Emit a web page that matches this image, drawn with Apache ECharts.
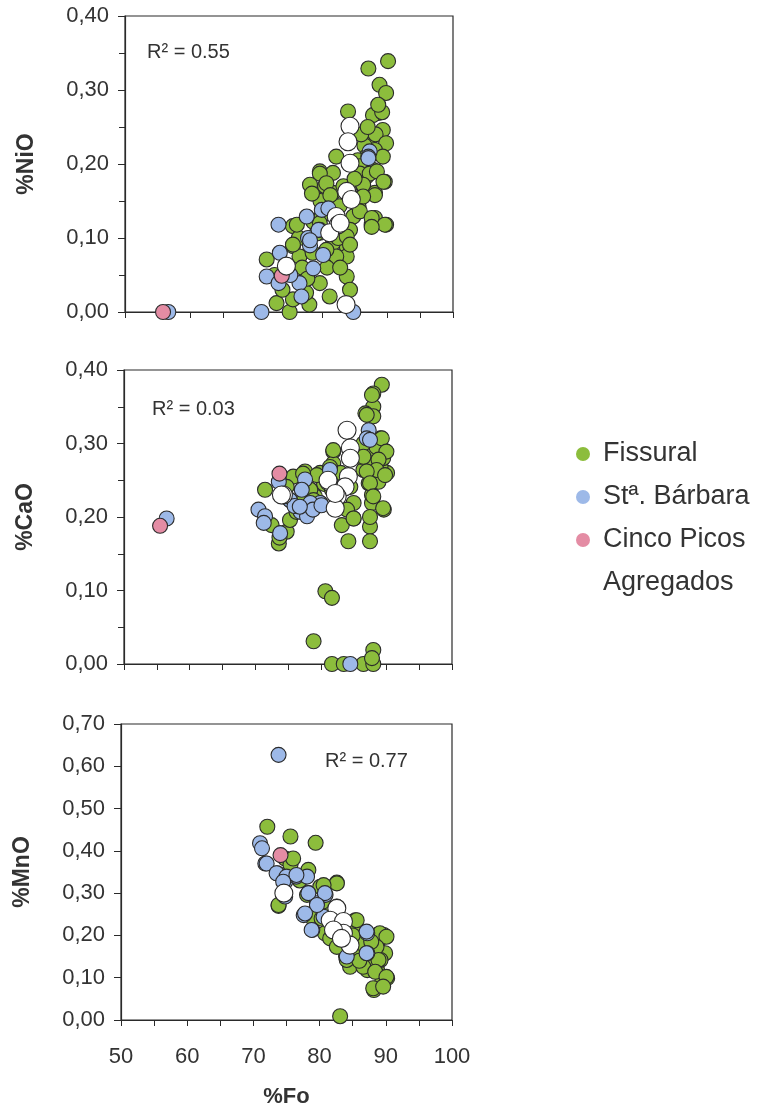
<!DOCTYPE html>
<html>
<head>
<meta charset="utf-8">
<script src="https://cdn.jsdelivr.net/npm/echarts@6/dist/echarts.min.js"></script>
<style>
html,body{margin:0;padding:0;background:#fff;}
#chart{width:764px;height:1112px;}
</style>
</head>
<body>
<div id="chart"></div>
<script>
// ---- data (x = %Fo, y = oxide %) ----
const seriesNames = ['Fissural', 'Stª. Bárbara', 'Cinco Picos', 'Agregados'];
const yAxisNames = ['%NiO', '%CaO', '%MnO'];
const r2Labels = ['R² = 0.55', 'R² = 0.03', 'R² = 0.77'];

const fissuralNiO = [[90.1,0.339],[87.1,0.329],[88.8,0.307],[89.8,0.296],[84.0,0.271],[88.6,0.269],[87.8,0.266],[89.2,0.270],[89.3,0.246],[87.6,0.237],[88.2,0.240],[89.8,0.228],[88.1,0.219],[86.5,0.225],[82.2,0.210],[86.8,0.210],[89.3,0.210],[85.5,0.205],[79.7,0.190],[81.7,0.188],[85.8,0.197],[87.8,0.192],[86.8,0.183],[89.6,0.176],[78.7,0.161],[80.5,0.170],[81.7,0.161],[83.3,0.170],[86.3,0.170],[88.1,0.161],[84.8,0.154],[85.6,0.143],[81.2,0.143],[82.7,0.143],[79.8,0.150],[88.1,0.127],[87.6,0.118],[89.8,0.118],[75.6,0.116],[78.7,0.122],[79.7,0.107],[84.8,0.129],[84.3,0.111],[83.8,0.089],[83.8,0.075],[81.7,0.093],[82.2,0.075],[75.6,0.089],[76.6,0.075],[78.6,0.080],[80.7,0.084],[71.6,0.071],[74.6,0.062],[83.8,0.048],[84.3,0.030],[79.7,0.039],[81.2,0.021],[73.1,0.012],[75.1,0.000],[78.1,0.010],[77.6,0.026],[75.6,0.017],[77.0,0.060],[80.0,0.130],[82.5,0.100],[76.5,0.100],[72.8,0.050],[74.0,0.030],
  [79.7,0.187],[85.8,0.187],[87.3,0.187],[88.4,0.190],[89.4,0.176],[78.2,0.172],[80.7,0.174],[78.5,0.160],[81.3,0.158],[86.3,0.172],[88.1,0.158],[86.3,0.156],[85.8,0.136],[87.6,0.127],[89.6,0.118],[87.6,0.115],[76.2,0.118],[79.7,0.120],[79.2,0.106],[83.8,0.102],[84.3,0.091],[75.6,0.091],[86.0,0.240],[87.0,0.250],[88.6,0.280],[85.0,0.180],[80.8,0.060],[82.8,0.060],[77.8,0.045]];
const stBarbaraNiO = [[87.3,0.217],[87.1,0.210],[80.0,0.138],[77.7,0.129],[73.4,0.118],[79.7,0.111],[77.9,0.100],[78.2,0.090],[80.2,0.077],[78.7,0.059],[73.6,0.080],[71.6,0.048],[73.4,0.039],[76.6,0.039],[76.9,0.021],[70.8,0.000],[84.8,0.000],[56.6,0.000],[75.2,0.050],[81.0,0.140],[79.5,0.111],[78.2,0.097],[87.1,0.208]];
const cincoPicosNiO = [[73.9,0.049],[55.8,0.000]];
const agregadosNiO = [[84.3,0.251],[84.0,0.230],[84.3,0.201],[83.8,0.163],[84.5,0.152],[82.2,0.129],[82.5,0.118],[81.2,0.107],[74.6,0.062],[83.7,0.010],[82.8,0.120]];

const fissuralCaO = [[89.3,0.380],[88.0,0.368],[88.0,0.350],[86.8,0.341],[88.0,0.337],[89.1,0.307],[89.6,0.291],[87.0,0.284],[90.1,0.260],[89.1,0.269],[88.0,0.273],[86.5,0.264],[88.8,0.248],[87.3,0.246],[87.8,0.230],[87.8,0.219],[89.6,0.210],[81.9,0.289],[81.9,0.273],[86.0,0.282],[81.4,0.260],[79.9,0.260],[77.6,0.262],[75.8,0.255],[74.8,0.241],[71.5,0.237],[78.4,0.237],[79.1,0.228],[84.5,0.241],[85.0,0.219],[84.0,0.210],[85.0,0.198],[83.2,0.189],[84.2,0.167],[87.5,0.187],[87.5,0.167],[73.6,0.164],[74.8,0.180],[75.3,0.196],[76.3,0.207],[72.5,0.189],[80.7,0.099],[81.7,0.090],[78.9,0.031],[81.7,0.000],[86.5,0.000],[88.0,0.000],[88.0,0.019],[87.8,0.008],[83.5,0.000],[88.5,0.295],[86.5,0.300],[89.5,0.280],[80.5,0.245],[83.0,0.260],[77.0,0.220],[73.7,0.172],
  [87.8,0.366],[87.0,0.339],[89.3,0.307],[90.0,0.289],[81.9,0.291],[86.5,0.282],[88.8,0.278],[88.5,0.264],[89.8,0.257],[87.0,0.262],[87.5,0.246],[81.4,0.268],[79.4,0.257],[77.3,0.259],[81.7,0.237],[78.4,0.237],[88.0,0.228],[89.5,0.212],[85.0,0.198],[87.5,0.200],[79.9,0.219],[75.3,0.223],[78.9,0.223]];
const stBarbaraCaO = [[87.3,0.318],[87.0,0.307],[73.6,0.248],[77.6,0.251],[70.5,0.210],[71.5,0.201],[71.3,0.192],[73.8,0.178],[76.9,0.207],[79.9,0.219],[78.4,0.219],[77.9,0.201],[75.3,0.223],[81.4,0.264],[84.5,0.000],[56.5,0.198],[76.0,0.215],[78.8,0.210],[77.1,0.237],[76.8,0.214],[80.1,0.216],[87.5,0.305]];
const cincoPicosCaO = [[73.7,0.259],[55.5,0.188]];
const agregadosCaO = [[84.0,0.318],[84.5,0.294],[84.5,0.280],[84.2,0.255],[83.7,0.241],[82.5,0.228],[82.2,0.212],[81.2,0.248],[74.3,0.230],[81.1,0.250],[82.2,0.232],[74.0,0.230]];

const fissuralMnO = [[72.1,0.457],[75.6,0.434],[79.4,0.419],[74.8,0.382],[75.6,0.367],[78.3,0.355],[82.6,0.325],[80.1,0.315],[73.8,0.270],[78.1,0.296],[79.6,0.268],[81.4,0.252],[85.4,0.236],[85.6,0.213],[80.8,0.205],[81.8,0.197],[84.1,0.189],[88.7,0.201],[89.7,0.201],[88.7,0.173],[89.9,0.158],[87.2,0.150],[85.1,0.134],[84.6,0.126],[87.2,0.118],[88.7,0.118],[90.2,0.099],[89.4,0.087],[88.2,0.071],[89.2,0.142],[83.1,0.009],[82.6,0.268],[83.5,0.220],[86.0,0.160],[86.5,0.180],[88.0,0.130],[89.0,0.190],[84.0,0.150],[79.0,0.240],[77.0,0.330],[80.5,0.280],
  [76.0,0.382],[73.8,0.272],[82.6,0.323],[80.6,0.319],[80.3,0.240],[81.6,0.193],[85.6,0.236],[89.1,0.205],[90.1,0.197],[88.6,0.173],[88.9,0.142],[86.6,0.126],[88.4,0.114],[90.1,0.102],[88.1,0.075],[89.6,0.079],[82.6,0.173],[84.1,0.142],[87.8,0.185],[86.0,0.140],[85.0,0.200]];
const stBarbaraMnO = [[73.8,0.627],[71.0,0.418],[71.3,0.406],[71.8,0.370],[73.6,0.347],[74.8,0.327],[76.5,0.339],[78.1,0.339],[78.3,0.300],[79.6,0.276],[80.9,0.296],[77.6,0.248],[78.9,0.213],[84.1,0.150],[87.2,0.205],[87.2,0.158],[80.6,0.244],[74.8,0.292],[72.0,0.370],[73.5,0.347],[75.0,0.339],[76.5,0.343],[74.5,0.327],[78.3,0.300],[80.8,0.300],[79.6,0.272],[77.8,0.252],[78.8,0.213],[87.1,0.209],[87.1,0.158]];
const cincoPicosMnO = [[74.1,0.390]];
const agregadosMnO = [[74.6,0.300],[82.6,0.264],[81.6,0.236],[83.6,0.233],[83.6,0.205],[84.6,0.177],[82.1,0.213],[83.3,0.193]];

// ---- styling ----
const FONT = '"Liberation Sans", Arial, sans-serif';
const colors = ['#8cbd3c', '#9db9e8', '#e48ca4', '#ffffff'];
const sizes = [15, 15, 15, 18];
const panels = [
  {grid:{left:125, top:16, width:328, height:296}, yMax:0.4, minor:true, xLabels:false,
   data:[fissuralNiO, stBarbaraNiO, cincoPicosNiO, agregadosNiO]},
  {grid:{left:124, top:370, width:328, height:294}, yMax:0.4, minor:true, xLabels:false,
   data:[fissuralCaO, stBarbaraCaO, cincoPicosCaO, agregadosCaO]},
  {grid:{left:121, top:724, width:331, height:296}, yMax:0.7, minor:false, xLabels:true,
   data:[fissuralMnO, stBarbaraMnO, cincoPicosMnO, agregadosMnO]}
];
const r2Pos = [[147, 42], [152, 399], [325, 751]];

const axisLine = {show:true, onZero:false, lineStyle:{color:'#2a2a2a', width:1.2}};
const grids = [], xAxes = [], yAxes = [], series = [], graphics = [];
panels.forEach((p, i) => {
  grids.push(Object.assign({show:true, borderColor:'#2a2a2a', borderWidth:1.2, backgroundColor:'#fff'}, p.grid));
  xAxes.push({
    type:'value', gridIndex:i, min:50, max:100, interval:10,
    axisLine, splitLine:{show:false},
    axisTick:{show:true, inside:false, length:6, lineStyle:{color:'#2a2a2a'}},
    minorTick:{show:true, splitNumber:2, length:6, lineStyle:{color:'#2a2a2a'}},
    axisLabel:{show:p.xLabels, fontFamily:FONT, fontSize:22, color:'#333', margin:26},
    name: p.xLabels ? '%Fo' : '', nameLocation:'middle', nameGap:66,
    nameTextStyle:{fontFamily:FONT, fontSize:22, fontWeight:'bold', color:'#333'}
  });
  yAxes.push({
    type:'value', gridIndex:i, min:0, max:p.yMax, interval:0.1,
    axisLine, splitLine:{show:false},
    axisTick:{show:true, inside:false, length:7, lineStyle:{color:'#2a2a2a'}},
    minorTick:{show:p.minor, splitNumber:2, length:6, lineStyle:{color:'#2a2a2a'}},
    axisLabel:{fontFamily:FONT, fontSize:22, color:'#333', margin:16,
      formatter: v => v.toFixed(2).replace('.', ',')},
    name:yAxisNames[i], nameLocation:'middle', nameGap:87, nameRotate:90,
    nameTextStyle:{fontFamily:FONT, fontSize:23, fontWeight:'bold', color:'#333'}
  });
  p.data.forEach((d, s) => {
    series.push({
      name:seriesNames[s], type:'scatter', xAxisIndex:i, yAxisIndex:i,
      data:d, symbol:'circle', symbolSize:sizes[s], z:2+s,
      itemStyle:{color:colors[s], borderColor:'#2b2b2b', borderWidth:1.1, opacity:1},
      emphasis:{disabled:true}
    });
  });
  graphics.push({type:'text', left:r2Pos[i][0], top:r2Pos[i][1], z:100,
    style:{text:r2Labels[i], fontFamily:FONT, fontSize:20, fill:'#333'}});
});

const chart = echarts.init(document.getElementById('chart'), null, {renderer:'canvas'});
chart.setOption({
  animation:false,
  backgroundColor:'#fff',
  color:colors,
  grid:grids, xAxis:xAxes, yAxis:yAxes, series,
  graphic:graphics,
  legend:{
    orient:'vertical', left:571, top:435, icon:'circle',
    itemWidth:14, itemHeight:14, itemGap:15,
    itemStyle:{borderWidth:0},
    textStyle:{fontFamily:FONT, fontSize:27, color:'#333', lineHeight:28, padding:[0,0,0,8]},
    data:seriesNames
  }
});
</script>
</body>
</html>
